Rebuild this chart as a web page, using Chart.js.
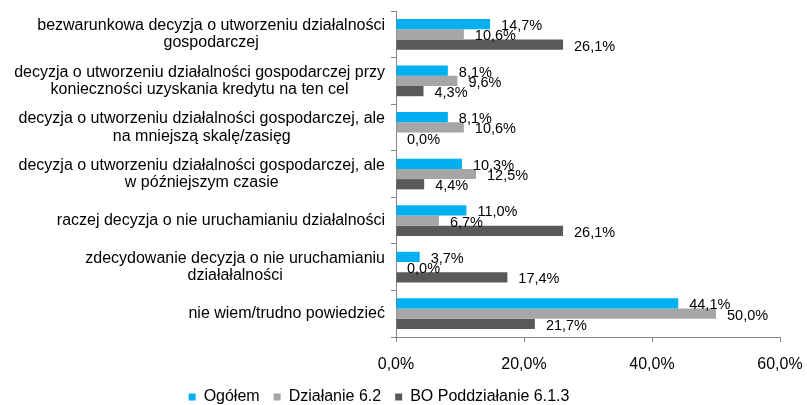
<!DOCTYPE html>
<html lang="pl">
<head>
<meta charset="utf-8">
<title>Decyzja o utworzeniu działalności</title>
<script src="https://cdn.jsdelivr.net/npm/chart.js@4/dist/chart.umd.min.js"></script>
<style>
    html, body { margin: 0; padding: 0; background: #fff; }
    #wrap { width: 807px; height: 405px; }
</style>
</head>
<body>
<div id="wrap"><canvas id="decisionChart" width="807" height="405"></canvas></div>
<script>
// Category labels (multi-line, as in the original)
const categories = [
    ['bezwarunkowa decyzja o utworzeniu działalności', 'gospodarczej'],
    ['decyzja o utworzeniu działalności gospodarczej przy', 'konieczności uzyskania kredytu na ten cel'],
    ['decyzja o utworzeniu działalności gospodarczej, ale', 'na mniejszą skalę/zasięg'],
    ['decyzja o utworzeniu działalności gospodarczej, ale', 'w późniejszym czasie'],
    ['raczej decyzja o nie uruchamianiu działalności'],
    ['zdecydowanie decyzja o nie uruchamianiu', 'działałalności'],
    ['nie wiem/trudno powiedzieć']
];

const seriesNames = ['Ogółem', 'Działanie 6.2', 'BO Poddziałanie 6.1.3'];
const ogolem = [14.7, 8.1, 8.1, 10.3, 11.0, 3.7, 44.1];
const dzialanie62 = [10.6, 9.6, 10.6, 12.5, 6.7, 0.0, 50.0];
const poddzialanie613 = [26.1, 4.3, 0.0, 4.4, 26.1, 17.4, 21.7];

const xTicks = [0, 20, 40, 60];
const seriesColors = ['#00b0f0', '#a6a6a6', '#595959'];

const FONT = 'Liberation Sans, Arial, sans-serif';
const AXIS_COLOR = '#868686';

function formatPct(v) {
    return Number(v).toFixed(1).replace('.', ',') + '%';
}

// Category labels: each block right aligned to the axis, lines centered inside
const categoryLabelPlugin = {
    id: 'categoryLabels',
    afterDraw(chart) {
        const ctx = chart.ctx;
        const yScale = chart.scales.y;
        const right = chart.chartArea.left - 11;
        const lineHeight = 17.5;
        ctx.save();
        ctx.font = '16px ' + FONT;
        ctx.fillStyle = '#000';
        ctx.textAlign = 'center';
        ctx.textBaseline = 'middle';
        categories.forEach((lines, i) => {
            const yc = yScale.getPixelForTick(i);
            const widest = Math.max(...lines.map(l => ctx.measureText(l).width));
            const xc = right - widest / 2;
            const top = yc - (lines.length - 1) * lineHeight / 2;
            lines.forEach((line, j) => ctx.fillText(line, xc, top + j * lineHeight));
        });
        ctx.restore();
    }
};

// Value labels to the right of every bar
const valueLabelPlugin = {
    id: 'valueLabels',
    afterDatasetsDraw(chart) {
        const ctx = chart.ctx;
        ctx.save();
        ctx.font = '14.5px ' + FONT;
        ctx.fillStyle = '#000';
        ctx.textAlign = 'left';
        ctx.textBaseline = 'middle';
        chart.data.datasets.forEach((ds, di) => {
            const meta = chart.getDatasetMeta(di);
            meta.data.forEach((bar, i) => {
                ctx.fillText(formatPct(ds.data[i]), bar.x + 11, bar.y + 2);
            });
        });
        ctx.restore();
    }
};

document.addEventListener('DOMContentLoaded', function() {
    const ctx = document.getElementById('decisionChart').getContext('2d');
    new Chart(ctx, {
        type: 'bar',
        data: {
            labels: categories,
            datasets: [
                { label: seriesNames[0], data: ogolem, backgroundColor: seriesColors[0] },
                { label: seriesNames[1], data: dzialanie62, backgroundColor: seriesColors[1] },
                { label: seriesNames[2], data: poddzialanie613, backgroundColor: seriesColors[2] }
            ]
        },
        options: {
            indexAxis: 'y',
            responsive: false,
            animation: false,
            devicePixelRatio: 1,
            layout: {
                padding: { left: -22, right: 27, top: 11, bottom: -10 }
            },
            datasets: {
                bar: { categoryPercentage: 0.66, barPercentage: 1.0 }
            },
            plugins: {
                legend: {
                    position: 'bottom',
                    labels: {
                        boxWidth: 7,
                        boxHeight: 7,
                        padding: 14,
                        color: '#000',
                        font: { family: FONT, size: 16 }
                    }
                },
                tooltip: { enabled: false }
            },
            scales: {
                x: {
                    min: 0,
                    max: 60,
                    afterBuildTicks: function(scale) {
                        scale.ticks = xTicks.map(v => ({ value: v }));
                    },
                    afterFit: function(scale) {
                        // fixed height, and keep the tick labels from shrinking the plot
                        scale.height = 38;
                        scale.paddingLeft = 0;
                        scale.paddingRight = 0;
                    },
                    ticks: {
                        color: '#000',
                        padding: 13,
                        font: { family: FONT, size: 16 },
                        callback: function(value) {
                            return formatPct(value);
                        }
                    },
                    grid: {
                        drawOnChartArea: false,
                        tickLength: 5,
                        color: AXIS_COLOR
                    },
                    border: { color: AXIS_COLOR }
                },
                y: {
                    afterFit: function(scale) {
                        scale.width = 418;
                    },
                    ticks: { display: false },
                    grid: {
                        drawOnChartArea: false,
                        offset: true,
                        tickLength: 5,
                        color: AXIS_COLOR
                    },
                    border: { color: AXIS_COLOR }
                }
            }
        },
        plugins: [categoryLabelPlugin, valueLabelPlugin]
    });
});
</script>
</body>
</html>
